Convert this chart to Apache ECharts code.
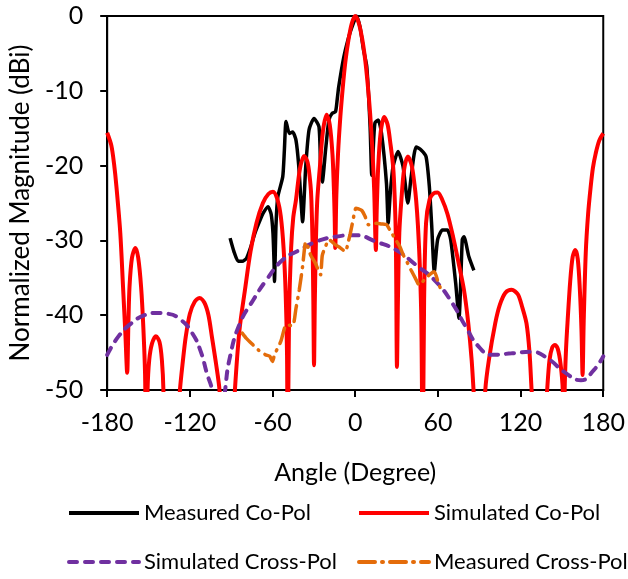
<!DOCTYPE html>
<html>
<head>
<meta charset="utf-8">
<script src="https://cdn.jsdelivr.net/npm/echarts@6/dist/echarts.min.js"></script>
<style>
  html, body { margin: 0; padding: 0; background: #fff; }
  #chart { width: 628px; height: 579px; }
</style>
</head>
<body>
<div id="chart"></div>
<script>
// Radiation pattern: angle (degree) vs normalized magnitude (dBi)
const seriesNames = ['Measured Co-Pol', 'Simulated Co-Pol', 'Simulated Cross-Pol', 'Measured Cross-Pol'];
const xTicks = [-180, -120, -60, 0, 60, 120, 180];
const yTicks = [0, -10, -20, -30, -40, -50];

// [angle, dB] pairs
const measuredCoPol = [
  [-90.8, -29.7], [-88, -31.5], [-84.9, -32.8], [-82, -32.8], [-78.9, -32.4], [-76, -31],
  [-72.9, -29.1], [-69.5, -27.5], [-66.9, -26.4], [-63.3, -25.5], [-61, -26.5], [-59.7, -29],
  [-58.9, -33], [-58.6, -35.5], [-57.5, -28], [-56.2, -24.2], [-52.6, -21.5], [-51.4, -17.9],
  [-50.2, -14.1], [-47.8, -15.7], [-45.4, -15.5], [-43, -16.6], [-41, -20], [-39.4, -24.6],
  [-38.2, -27.5], [-35.9, -20.1], [-33.5, -15.2], [-29.9, -13.7], [-26.3, -14.8], [-25.1, -20.1],
  [-23.9, -22.2], [-21.5, -17.9], [-19.1, -13.9], [-16.7, -13], [-14.3, -12.8], [-13.1, -11.2],
  [-12, -9.5], [-8.4, -5.6], [-5, -3], [-2.4, -1.5], [1, 0], [3.5, -1.5], [6, -4.5],
  [8.4, -6.8], [10.8, -14.8], [12, -21.3], [13, -18], [14.3, -14.3], [16.7, -13.9], [19.1, -15.7],
  [22.7, -22.4], [23.9, -27.7], [25.5, -23.5], [27.5, -20.1], [31.1, -18.1], [34.7, -20.1],
  [38.2, -25], [40.6, -21.5], [44.2, -17.5], [47.8, -17.9], [51.4, -18.8], [53.8, -22.8],
  [55.5, -28], [57.4, -34.2], [59.8, -29.9], [63.3, -28.6], [66.9, -28.6], [69.3, -29.9],
  [72.9, -35.7], [75.3, -40.4], [77.7, -29.9], [78.9, -29.5], [82.5, -32.2], [86.1, -34]
];

const simulatedCoPol = [
  [-180, -15.6], [-177, -17.3], [-175, -19.8], [-173.3, -22.8], [-170.5, -29], [-168.5, -36.2],
  [-166.8, -42.5], [-165.5, -47.7], [-164.6, -41], [-163.8, -36.2], [-162, -32.3], [-159.5, -31],
  [-157.5, -32.3], [-155.4, -36.2], [-153.8, -41.5], [-152.5, -48], [-151.6, -62], [-150.7, -50],
  [-149.5, -46], [-147.5, -43.8], [-144.6, -42.8], [-142, -43.6], [-140.3, -46], [-139.2, -50],
  [-138.3, -62], [-133, -66], [-127.2, -50], [-125, -46], [-123, -42.9], [-120, -39.8],
  [-116.5, -38.2], [-113, -37.7], [-109.5, -38.3], [-106.5, -40], [-104, -42.9], [-101, -46.5],
  [-98.5, -50], [-95.6, -60], [-91.5, -64], [-87.3, -50], [-84, -42], [-80, -36.6],
  [-76, -31.5], [-71.7, -27.7], [-67, -25], [-63, -23.8], [-59.7, -23.5], [-56.5, -24.5],
  [-54, -26.8], [-52, -31], [-50.5, -37], [-49.5, -45], [-49, -60], [-48, -40],
  [-46.5, -31], [-45, -27], [-43, -24.6], [-40, -20.3], [-37, -18.7], [-34.5, -19.6],
  [-32.5, -22.5], [-31.8, -24.6], [-31, -30], [-30.4, -38], [-29.9, -46.7], [-29.3, -38],
  [-28.5, -30], [-27.5, -24.5], [-25.6, -20.1], [-23.5, -15.5], [-20.8, -13.2], [-18.5, -14.5],
  [-16.5, -18.5], [-15.5, -23], [-14.9, -27], [-14.5, -31], [-13.7, -24], [-12.5, -18.5],
  [-10.8, -13.5], [-9, -9.5], [-7.2, -6.2], [-5, -3.3], [-2.5, -1], [0, 0],
  [2.5, -0.9], [5, -3], [7.2, -5.8], [9, -9], [10.8, -13], [12.5, -18],
  [13.8, -23.5], [15, -31.3], [15.6, -26], [16.7, -20.1], [18.5, -15.5], [21, -13.5],
  [23.5, -14.5], [25.5, -17], [27.5, -20.1], [28.6, -24], [29.5, -30], [30.3, -46.9],
  [31, -38], [32, -29], [33.5, -24.6], [35.5, -20.5], [38.2, -18.8], [41, -20],
  [43, -22.5], [44.2, -24.6], [45.5, -28], [47, -34], [48, -41], [49, -60],
  [50, -38], [51.4, -27.7], [54, -24.5], [57, -23.7], [59.8, -23.6], [63, -24.5],
  [67, -26.5], [71, -29.5], [75, -33], [78.9, -36.6], [82, -41], [84.5, -46],
  [86.5, -52], [90.5, -64], [94.4, -50], [97, -46], [101.6, -41.1], [105, -38.6],
  [109, -37], [113.5, -36.6], [118, -37.2], [121, -38.8], [124.3, -41.1], [126.5, -45],
  [128, -50], [133.5, -66], [139.3, -50], [141, -46], [143, -44.3], [145, -44],
  [147, -44.5], [149, -46.5], [150.6, -50], [151.4, -62], [152, -50], [153, -44.5],
  [154.2, -40.6], [156, -35.5], [157.8, -32.2], [159.7, -31.3], [161.5, -32.5], [163, -36.5],
  [164.2, -42], [165, -48], [165.8, -41], [167.3, -31.7], [169, -26.5], [170.9, -22.8],
  [172.5, -20.3], [174.5, -18.4], [177, -16.7], [180, -15.7]
];

const simulatedCrossPol = [
  [-180, -45.3], [-172.1, -42.9], [-162.6, -41.1], [-153, -40], [-144.6, -39.7], [-136.3, -39.8],
  [-126.7, -40.6], [-118.3, -42.4], [-112.4, -44.7], [-107.6, -47.8], [-104, -50], [-99, -58],
  [-94.4, -50], [-90.8, -45.5], [-83.7, -41.1], [-74.1, -38], [-64.5, -35.3], [-52.6, -32.6],
  [-40.6, -31.3], [-28.7, -30.2], [-14.3, -29.5], [0, -29.3], [15.5, -30.2], [29.8, -31.3],
  [44.2, -33.3], [58.6, -35.5], [70.5, -38.4], [80.1, -41.5], [89.6, -44.2], [99.2, -45.3],
  [113.5, -45.1], [127.9, -44.9], [139.8, -45.8], [151.8, -47.6], [163.8, -48.7], [173.3, -47.3],
  [180, -45.5]
];

const measuredCrossPol = [
  [-82, -42.4], [-79, -43.1], [-74, -44], [-70, -44.7], [-65, -45.3], [-62, -45.5],
  [-60, -46.2], [-58.6, -45.3], [-54, -43.5], [-50, -41.3], [-45.4, -41.4], [-43, -39.1],
  [-40.6, -36.6], [-38.2, -33.5], [-35.9, -30.2], [-34, -31], [-32.3, -32], [-29, -33],
  [-26.3, -34.2], [-25.1, -34.6], [-23.9, -32], [-21.5, -30.8], [-19.1, -29.9], [-16.7, -30.2],
  [-14.3, -30.6], [-10.8, -31], [-7.2, -31.5], [-4.8, -30], [-3.6, -29.1], [-1.8, -27.5],
  [0.5, -25.7], [2.4, -25.8], [4.8, -26], [7.2, -26.8], [9.6, -27.9], [12, -27.9],
  [15.5, -27.7], [19, -27.8], [22.7, -27.9], [25.1, -28.6], [29, -29.8], [32.3, -30.8],
  [35, -32], [38.2, -33.1], [40.6, -34], [43.5, -35], [46.6, -36], [50, -35.3],
  [53.8, -34.6], [57.4, -34.2], [60, -35.5], [62.2, -36.6]
];

const FONT = 'Lato';
const chart = echarts.init(document.getElementById('chart'), null, { renderer: 'canvas' });

// One legend block per entry, laid out as a 2x2 table under the plot
function legendAt(name, left, top) {
  return {
    data: [name], left: left, top: top, orient: 'horizontal',
    itemWidth: 70, itemHeight: 14, padding: 0,
    itemStyle: { opacity: 0 },
    lineStyle: { width: 4 },
    textStyle: { fontFamily: FONT, fontSize: 22, color: '#000' }
  };
}

chart.setOption({
  animation: false,
  backgroundColor: '#fff',
  grid: { left: 104, right: 22, top: 16, bottom: 189, show: true, borderColor: '#000', borderWidth: 2 },
  legend: [
    legendAt(seriesNames[0], 67, 502),
    legendAt(seriesNames[1], 357, 502),
    legendAt(seriesNames[2], 67, 551),
    legendAt(seriesNames[3], 357, 551)
  ],
  xAxis: {
    type: 'value', min: xTicks[0], max: xTicks[xTicks.length - 1], interval: 60,
    name: 'Angle (Degree)', nameLocation: 'middle', nameGap: 70,
    nameTextStyle: { fontFamily: FONT, fontSize: 25, color: '#000' },
    axisLine: { show: true, onZero: false, lineStyle: { color: '#000', width: 2 } },
    axisTick: { show: true, length: 7, lineStyle: { color: '#000', width: 2 } },
    axisLabel: { margin: 20, fontFamily: FONT, fontSize: 25, color: '#000' },
    splitLine: { show: false }
  },
  yAxis: {
    type: 'value', min: yTicks[yTicks.length - 1], max: yTicks[0], interval: 10,
    name: 'Normalized Magnitude (dBi)', nameLocation: 'middle', nameGap: 69,
    nameTextStyle: { fontFamily: FONT, fontSize: 26, color: '#000' },
    axisLine: { show: true, onZero: false, lineStyle: { color: '#000', width: 2 } },
    axisTick: { show: true, length: 7, lineStyle: { color: '#000', width: 2 } },
    axisLabel: { margin: 24, fontFamily: FONT, fontSize: 25, color: '#000' },
    splitLine: { show: false }
  },
  series: [
    {
      name: seriesNames[0], type: 'line', data: measuredCoPol, symbol: 'none', smooth: 0.2,
      clip: true, lineStyle: { color: '#000', width: 3.5 }, itemStyle: { color: '#000' }, z: 2
    },
    {
      name: seriesNames[1], type: 'line', data: simulatedCoPol, symbol: 'none', smooth: 0.3,
      clip: true, lineStyle: { color: '#ff0000', width: 4 }, itemStyle: { color: '#ff0000' }, z: 3
    },
    {
      name: seriesNames[2], type: 'line', data: simulatedCrossPol, symbol: 'none', smooth: 0.5,
      clip: true, lineStyle: { color: '#7030a0', width: 4, type: [8, 8], cap: 'round' },
      itemStyle: { color: '#7030a0' }, z: 4
    },
    {
      name: seriesNames[3], type: 'line', data: measuredCrossPol, symbol: 'none', smooth: 0.2,
      clip: true, lineStyle: { color: '#e46c0a', width: 3.5, type: [16, 7, 1, 7], cap: 'round' },
      itemStyle: { color: '#e46c0a' }, z: 5
    }
  ]
});
</script>
</body>
</html>
